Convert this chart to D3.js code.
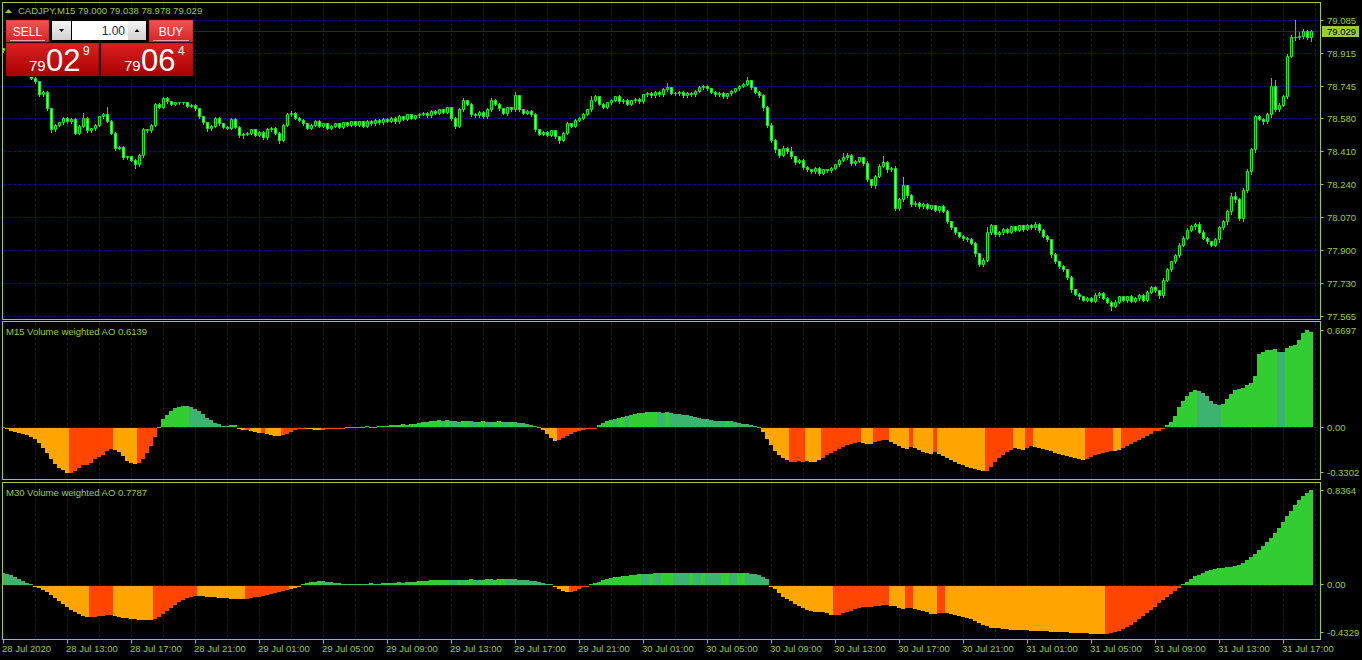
<!DOCTYPE html>
<html>
<head>
<meta charset="utf-8">
<script src="https://cdn.jsdelivr.net/npm/d3@7"></script>
<style>
html, body { margin: 0; padding: 0; background: #000; }
svg { display: block; }
text { font-family: "Liberation Sans", Arial, sans-serif; }
</style>
</head>
<body>
<div id="chart"></div>
<script>
// ---- data ----
var symbol = "CADJPY,M15";
var lotSize = "1.00";
var bid = 79.029, ask = 79.064;
var firstOpen = 78.940;

// M15 closes, one line = 8 bars (2 hours)
var closes = [
  78.930, 78.856, 78.882, 78.851, 78.830, 78.841, 78.810, 78.789,
  78.769, 78.702, 78.717, 78.630, 78.522, 78.547, 78.558, 78.583,
  78.563, 78.578, 78.506, 78.542, 78.583, 78.517, 78.527, 78.547,
  78.589, 78.604, 78.568, 78.506, 78.429, 78.434, 78.378, 78.383,
  78.367, 78.342, 78.393, 78.522, 78.517, 78.547, 78.655, 78.640,
  78.686, 78.666, 78.655, 78.661, 78.661, 78.661, 78.645, 78.650,
  78.630, 78.589, 78.558, 78.527, 78.542, 78.583, 78.553, 78.537,
  78.532, 78.578, 78.537, 78.491, 78.501, 78.506, 78.522, 78.496,
  78.511, 78.481, 78.522, 78.532, 78.506, 78.470, 78.547, 78.599,
  78.609, 78.583, 78.573, 78.553, 78.532, 78.547, 78.568, 78.542,
  78.553, 78.532, 78.542, 78.553, 78.537, 78.558, 78.547, 78.563,
  78.547, 78.563, 78.542, 78.568, 78.553, 78.573, 78.558, 78.578,
  78.568, 78.583, 78.563, 78.589, 78.578, 78.599, 78.583, 78.594,
  78.604, 78.609, 78.594, 78.619, 78.609, 78.625, 78.614, 78.635,
  78.583, 78.542, 78.625, 78.671, 78.655, 78.604, 78.594, 78.614,
  78.589, 78.625, 78.676, 78.655, 78.630, 78.609, 78.635, 78.625,
  78.697, 78.625, 78.609, 78.619, 78.604, 78.522, 78.501, 78.511,
  78.496, 78.517, 78.486, 78.470, 78.506, 78.553, 78.542, 78.573,
  78.583, 78.604, 78.625, 78.676, 78.692, 78.655, 78.640, 78.661,
  78.676, 78.692, 78.666, 78.676, 78.655, 78.671, 78.681, 78.666,
  78.702, 78.712, 78.697, 78.717, 78.702, 78.728, 78.738, 78.712,
  78.707, 78.717, 78.697, 78.712, 78.702, 78.722, 78.738, 78.748,
  78.733, 78.717, 78.702, 78.712, 78.692, 78.707, 78.722, 78.733,
  78.748, 78.758, 78.774, 78.738, 78.717, 78.697, 78.635, 78.547,
  78.470, 78.419, 78.393, 78.429, 78.409, 78.383, 78.357, 78.367,
  78.331, 78.316, 78.306, 78.326, 78.300, 78.316, 78.311, 78.326,
  78.342, 78.367, 78.378, 78.393, 78.347, 78.362, 78.378, 78.352,
  78.265, 78.234, 78.285, 78.336, 78.357, 78.316, 78.326, 78.120,
  78.162, 78.234, 78.187, 78.136, 78.146, 78.126, 78.141, 78.120,
  78.131, 78.110, 78.126, 78.105, 78.049, 78.018, 77.992, 77.976,
  77.966, 77.956, 77.940, 77.884, 77.828, 77.853, 77.997, 78.028,
  77.982, 77.997, 78.012, 77.997, 78.023, 78.007, 78.028, 78.012,
  78.033, 78.018, 78.038, 78.007, 77.976, 77.956, 77.879, 77.843,
  77.822, 77.802, 77.761, 77.699, 77.678, 77.663, 77.647, 77.657,
  77.642, 77.673, 77.683, 77.657, 77.637, 77.616, 77.637, 77.663,
  77.647, 77.663, 77.642, 77.657, 77.673, 77.647, 77.688, 77.714,
  77.694, 77.668, 77.750, 77.802, 77.843, 77.874, 77.930, 77.966,
  78.007, 78.023, 78.038, 77.997, 77.966, 77.946, 77.930, 77.956,
  78.018, 78.049, 78.100, 78.182, 78.162, 78.069, 78.213, 78.306,
  78.419, 78.589, 78.578, 78.563, 78.599, 78.743, 78.625, 78.650,
  78.692, 78.902, 78.995, 78.995, 79.005, 79.026, 79.000, 79.029
];

// wick lengths in points (0.001) above / below the body
var wickUp = [
  6,5,8,4,6,5,7,5, 4,6,5,7,5,6,4,6, 5,7,4,6,25,5,6,4, 6,5,35,4,6,5,7,4,
  5,6,4,8,5,6,5,7, 6,5,7,4,6,5,4,6, 5,6,4,7,5,8,6,5, 6,7,5,4,6,5,7,6,
  5,6,8,5,7,4,6,10, 8,5,6,4,7,5,6,5, 6,5,4,6,5,7,5,6, 5,6,7,5,4,6,5,7,
  6,5,6,8,5,6,4,6, 5,7,5,6,8,5,6,7, 6,5,8,15,6,5,7,5, 6,8,10,5,6,5,7,6,
  20,6,5,7,5,6,5,6, 5,6,7,5,6,8,5,6, 6,5,7,20,8,5,6,7, 5,6,8,5,7,5,6,5,
  6,7,5,6,5,8,25,6, 5,6,7,5,6,5,8,6, 6,5,7,6,5,6,7,5, 6,8,20,5,6,7,8,10,
  12,8,6,10,7,25,6,8, 6,7,5,8,6,7,5,6, 7,6,25,8,6,7,6,5, 8,6,7,12,30,6,7,10,
  8,45,7,6,8,5,7,6, 6,7,5,8,6,7,5,6, 7,6,8,6,7,10,25,8, 6,7,5,8,6,7,6,5,
  7,6,8,5,6,7,6,8, 6,7,5,8,6,7,6,7, 6,8,7,5,6,7,8,6, 7,6,8,6,7,5,8,6,
  7,6,10,8,7,10,8,9, 10,8,7,12,8,6,7,8, 9,10,12,15,20,10,12,15, 12,10,8,7,10,45,35,10,
  8,12,15,90,20,15,8,9
];
var wickDn = [
  5,6,4,7,5,6,5,4, 6,5,7,5,8,6,5,4, 6,5,7,4,6,5,8,6, 5,7,6,5,8,6,5,7,
  6,15,7,10,5,6,4,5, 6,5,4,6,5,7,5,6, 7,5,6,8,5,6,5,7, 5,6,7,5,8,6,5,7,
  6,5,7,6,5,15,6,5, 5,6,7,5,6,5,7,6, 6,5,6,7,5,6,5,6, 5,7,5,6,6,5,7,5,
  6,5,7,5,6,7,5,6, 5,6,5,7,6,5,6,5, 8,10,6,5,7,8,6,5, 6,5,7,6,5,6,8,5,
  6,7,5,6,8,7,6,5, 6,7,5,15,6,5,7,6, 5,6,7,5,6,7,5,6, 6,5,6,7,5,6,5,7,
  5,6,5,7,6,5,6,5, 6,5,7,5,6,5,6,7, 5,6,5,7,6,5,6,5, 6,5,6,5,7,6,8,10,
  10,8,12,7,8,6,8,7, 8,6,7,5,8,6,7,6, 6,7,5,6,7,6,5,8, 7,6,10,7,6,8,6,12,
  10,7,8,6,7,8,6,7, 6,7,8,6,7,8,7,6, 8,7,6,10,8,7,6,8, 7,6,8,7,6,7,6,8,
  6,7,6,8,7,6,8,7, 8,7,6,8,7,8,6,7, 7,6,8,7,6,20,7,6, 7,8,6,7,8,6,7,6,
  6,10,7,6,8,7,6,7, 7,6,8,7,6,8,7,6, 8,7,10,8,9,8,15,8, 10,8,7,8,6,8,7,8,
  7,8,6,9,7,8,9,22
];

var priceTicks = [79.085, 78.915, 78.745, 78.580, 78.410, 78.240, 78.070, 77.900, 77.730, 77.565];

// one label every 16 bars (4 hours)
var timeLabels = [
  "28 Jul 2020", "28 Jul 13:00", "28 Jul 17:00", "28 Jul 21:00",
  "29 Jul 01:00", "29 Jul 05:00", "29 Jul 09:00", "29 Jul 13:00", "29 Jul 17:00", "29 Jul 21:00",
  "30 Jul 01:00", "30 Jul 05:00", "30 Jul 09:00", "30 Jul 13:00", "30 Jul 17:00", "30 Jul 21:00",
  "31 Jul 01:00", "31 Jul 05:00", "31 Jul 09:00", "31 Jul 13:00", "31 Jul 17:00"
];

// M15 Volume weighted AO
var ao15 = [
  0.002, -0.016, -0.028, -0.037, -0.043, -0.050, -0.057, -0.067,
  -0.085, -0.112, -0.147, -0.181, -0.223, -0.257, -0.285, -0.299,
  -0.313, -0.313, -0.306, -0.285, -0.264, -0.264, -0.250, -0.223,
  -0.209, -0.195, -0.168, -0.154, -0.161, -0.175, -0.202, -0.237,
  -0.250, -0.257, -0.250, -0.223, -0.181, -0.133, -0.071, 0.003,
  0.053, 0.081, 0.108, 0.129, 0.136, 0.143, 0.143, 0.136,
  0.122, 0.108, 0.088, 0.060, 0.046, 0.026, 0.019, 0.005,
  0.005, 0.012, 0.012, -0.016, -0.023, -0.023, -0.030, -0.035,
  -0.041, -0.041, -0.048, -0.055, -0.062, -0.062, -0.055, -0.048,
  -0.035, -0.021, -0.007, -0.003, -0.007, -0.014, -0.021, -0.021,
  -0.021, -0.014, -0.014, -0.007, -0.003, -0.003, 0.002, 0.003,
  0.003, 0.002, 0.003, 0.006, 0.003, 0.003, 0.006, 0.007,
  0.010, 0.014, 0.012, 0.015, 0.021, 0.018, 0.021, 0.024,
  0.028, 0.035, 0.038, 0.041, 0.045, 0.048, 0.045, 0.048,
  0.045, 0.041, 0.038, 0.041, 0.045, 0.041, 0.035, 0.038,
  0.041, 0.038, 0.035, 0.038, 0.041, 0.038, 0.035, 0.038,
  0.035, 0.031, 0.028, 0.024, 0.017, 0.010, 0.003, -0.021,
  -0.048, -0.076, -0.097, -0.090, -0.076, -0.062, -0.048, -0.035,
  -0.028, -0.021, -0.014, -0.007, -0.003, 0.014, 0.028, 0.041,
  0.048, 0.055, 0.062, 0.069, 0.076, 0.083, 0.090, 0.097,
  0.100, 0.104, 0.104, 0.107, 0.104, 0.100, 0.104, 0.097,
  0.093, 0.090, 0.086, 0.083, 0.076, 0.069, 0.062, 0.059,
  0.055, 0.048, 0.045, 0.041, 0.041, 0.045, 0.041, 0.035,
  0.028, 0.024, 0.021, 0.014, 0.007, 0.002, -0.035, -0.083,
  -0.124, -0.166, -0.193, -0.214, -0.228, -0.242, -0.242, -0.235,
  -0.242, -0.235, -0.242, -0.242, -0.228, -0.214, -0.193, -0.179,
  -0.166, -0.152, -0.138, -0.124, -0.117, -0.110, -0.104, -0.110,
  -0.117, -0.117, -0.104, -0.097, -0.090, -0.090, -0.104, -0.117,
  -0.131, -0.145, -0.152, -0.138, -0.145, -0.159, -0.173, -0.179,
  -0.186, -0.173, -0.186, -0.200, -0.214, -0.228, -0.242, -0.255,
  -0.262, -0.276, -0.283, -0.290, -0.297, -0.304, -0.304, -0.276,
  -0.242, -0.214, -0.193, -0.173, -0.159, -0.145, -0.152, -0.159,
  -0.145, -0.131, -0.138, -0.145, -0.152, -0.159, -0.166, -0.179,
  -0.186, -0.193, -0.200, -0.207, -0.214, -0.221, -0.228, -0.221,
  -0.207, -0.193, -0.186, -0.179, -0.173, -0.166, -0.166, -0.159,
  -0.145, -0.131, -0.117, -0.104, -0.090, -0.076, -0.062, -0.048,
  -0.028, -0.028, -0.014, 0.014, 0.035, 0.076, 0.138, 0.179,
  0.214, 0.242, 0.255, 0.248, 0.235, 0.214, 0.179, 0.159,
  0.152, 0.159, 0.193, 0.228, 0.255, 0.262, 0.269, 0.290,
  0.304, 0.352, 0.504, 0.518, 0.531, 0.531, 0.538, 0.518,
  0.518, 0.545, 0.559, 0.566, 0.600, 0.649, 0.6697, 0.655
];
// colour runs: g = up above zero, s = down above zero, o = down below zero, r = up below zero
var ao15Colors = [
  ["s",1],["o",16],["r",11],["o",6],["r",5],["s",1],["g",7],["s",10],["g",2],["o",2],["r",1],
  ["o",3],["r",1],["o",4],["r",6],["o",4],["r",6],["s",1],["g",2],["s",1],["g",2],["s",2],
  ["g",4],["s",1],["g",2],["s",1],["g",8],["s",1],["g",1],["s",3],["g",2],["s",2],["g",2],
  ["s",2],["g",2],["s",2],["g",1],["s",7],["o",4],["r",10],["g",4],["s",1],["g",2],["s",1],
  ["g",7],["s",2],["g",1],["s",14],["g",1],["s",8],["o",7],["r",4],["o",4],["r",10],["o",3],
  ["r",4],["o",5],["r",1],["o",5],["r",1],["o",12],["r",7],["o",3],["r",2],["o",13],["r",7],
  ["o",2],["r",11],["g",8],["s",6],["g",14],["s",2],["g",7]
];
var ao15Range = [-0.3302, 0.6697];
var ao15Last = 0.6139;

// M30 Volume weighted AO
var ao30 = [
  0.106, 0.097, 0.088, 0.071, 0.053, 0.035, 0.018, 0.009,
  -0.009, -0.026, -0.044, -0.062, -0.088, -0.115, -0.141, -0.168,
  -0.194, -0.221, -0.238, -0.256, -0.273, -0.282, -0.282, -0.282,
  -0.273, -0.273, -0.265, -0.265, -0.273, -0.282, -0.291, -0.291,
  -0.300, -0.300, -0.309, -0.309, -0.309, -0.309, -0.300, -0.282,
  -0.256, -0.229, -0.203, -0.176, -0.150, -0.132, -0.115, -0.106,
  -0.097, -0.097, -0.097, -0.106, -0.106, -0.106, -0.115, -0.115,
  -0.115, -0.123, -0.123, -0.123, -0.123, -0.123, -0.115, -0.106,
  -0.106, -0.097, -0.088, -0.079, -0.071, -0.062, -0.053, -0.044,
  -0.035, -0.026, -0.018, 0.009, 0.018, 0.026, 0.026, 0.035,
  0.035, 0.026, 0.026, 0.018, 0.018, 0.009, 0.009, 0.004,
  0.004, 0.009, 0.009, 0.009, 0.013, 0.009, 0.009, 0.013,
  0.013, 0.018, 0.018, 0.022, 0.018, 0.022, 0.026, 0.026,
  0.031, 0.035, 0.035, 0.040, 0.040, 0.044, 0.044, 0.044,
  0.044, 0.044, 0.040, 0.044, 0.044, 0.049, 0.044, 0.044,
  0.044, 0.049, 0.049, 0.044, 0.049, 0.053, 0.053, 0.049,
  0.049, 0.044, 0.044, 0.040, 0.035, 0.031, 0.026, 0.018,
  0.009, 0.004, -0.018, -0.035, -0.053, -0.062, -0.062, -0.053,
  -0.035, -0.018, -0.009, 0.009, 0.018, 0.026, 0.044, 0.053,
  0.062, 0.071, 0.071, 0.079, 0.079, 0.088, 0.088, 0.093,
  0.097, 0.097, 0.097, 0.101, 0.101, 0.101, 0.106, 0.106,
  0.106, 0.106, 0.106, 0.106, 0.103, 0.103, 0.103, 0.103,
  0.103, 0.103, 0.103, 0.103, 0.103, 0.103, 0.103, 0.103,
  0.103, 0.103, 0.103, 0.097, 0.094, 0.086, 0.068, 0.050,
  -0.004, -0.038, -0.073, -0.108, -0.126, -0.144, -0.170, -0.188,
  -0.206, -0.223, -0.232, -0.241, -0.241, -0.241, -0.250, -0.267,
  -0.267, -0.267, -0.250, -0.241, -0.232, -0.214, -0.206, -0.197,
  -0.197, -0.197, -0.188, -0.188, -0.179, -0.179, -0.188, -0.188,
  -0.206, -0.214, -0.206, -0.206, -0.214, -0.223, -0.232, -0.241,
  -0.258, -0.258, -0.250, -0.250, -0.250, -0.258, -0.267, -0.276,
  -0.285, -0.294, -0.303, -0.320, -0.338, -0.355, -0.364, -0.382,
  -0.382, -0.382, -0.388, -0.392, -0.397, -0.397, -0.397, -0.401,
  -0.401, -0.406, -0.406, -0.406, -0.410, -0.410, -0.415, -0.415,
  -0.415, -0.419, -0.419, -0.423, -0.423, -0.423, -0.428, -0.428,
  -0.432, -0.4329, -0.432, -0.432, -0.430, -0.423, -0.415, -0.406,
  -0.388, -0.370, -0.353, -0.326, -0.300, -0.273, -0.247, -0.221,
  -0.194, -0.159, -0.132, -0.106, -0.079, -0.053, -0.026, 0.009,
  0.026, 0.053, 0.079, 0.088, 0.106, 0.123, 0.132, 0.141,
  0.150, 0.150, 0.159, 0.159, 0.168, 0.176, 0.194, 0.221,
  0.247, 0.273, 0.309, 0.344, 0.379, 0.415, 0.459, 0.503,
  0.556, 0.609, 0.653, 0.706, 0.750, 0.785, 0.811, 0.8364
];
var ao30Colors = [
  ["s",8],["o",14],["r",6],["o",10],["r",11],["o",12],["r",11],["o",3],["g",5],["s",9],["g",1],
  ["s",2],["g",1],["s",2],["g",2],["s",1],["g",2],["s",1],["g",11],["s",2],["g",1],["s",1],
  ["g",2],["s",2],["g",2],["s",1],["g",3],["s",12],["o",4],["r",5],["g",13],["s",2],["g",1],
  ["s",2],["g",3],["s",4],["g",1],["s",2],["g",1],["s",4],["g",2],["s",2],["g",2],["s",6],
  ["o",16],["r",14],["o",4],["r",2],["o",6],["r",2],["o",40],["r",19],["g",33]
];
var ao30Range = [-0.4329, 0.8364];
var ao30Last = 0.7787;

// ---- drawing ----
var W = 1362, H = 660;
var fg = "#9acd32";
var grid = "#0c0c94";
var candleColor = "#00ff00";
var histColors = { g: "#32cd32", s: "#3cb371", o: "#ffa500", r: "#ff4500" };
var left = 2.5, right = 1320.5;
var panels = [
  { top: 2.5, bottom: 319.5 },
  { top: 321.5, bottom: 479.5 },
  { top: 482.5, bottom: 639.5 }
];

var svg = d3.select("#chart").append("svg")
    .attr("width", W)
    .attr("height", H)
    .style("background", "#000");

var x = d3.scaleLinear().domain([0, closes.length - 1]).range([3.5, 1311.5]);
var y = d3.scaleLinear()
    .domain([priceTicks[priceTicks.length - 1], priceTicks[0]])
    .range([316, 20.5]);

function crisp(v) { return Math.round(v - 0.5) + 0.5; }

var defs = svg.append("defs");
panels.forEach(function(p, k) {
    defs.append("clipPath").attr("id", "clip" + k)
      .append("rect")
        .attr("x", left + 0.5).attr("y", p.top + 0.5)
        .attr("width", right - left - 1).attr("height", p.bottom - p.top - 1);
});

// vertical grid every 8 bars
var gridBars = d3.range(8, closes.length + 8, 8);
panels.forEach(function(p) {
    svg.append("g").selectAll("line").data(gridBars).enter().append("line")
        .attr("x1", function(d) { return x(d); })
        .attr("x2", function(d) { return x(d); })
        .attr("y1", p.top + 1).attr("y2", p.bottom - 1)
        .attr("stroke", grid).attr("stroke-dasharray", "3,2");
});

// horizontal price grid
svg.append("g").selectAll("line").data(priceTicks).enter().append("line")
    .attr("x1", left + 1).attr("x2", right - 1)
    .attr("y1", function(d) { return crisp(y(d)); })
    .attr("y2", function(d) { return crisp(y(d)); })
    .attr("stroke", grid).attr("stroke-dasharray", "3,2");

// bid line
svg.append("line")
    .attr("x1", left + 1).attr("x2", right - 1)
    .attr("y1", crisp(y(bid))).attr("y2", crisp(y(bid)))
    .attr("stroke", "#1414c8");

// candles
var bars = closes.map(function(c, i) {
    var o = i === 0 ? firstOpen : closes[i - 1];
    return { i: i, o: o, c: c,
             h: Math.max(o, c) + wickUp[i] / 1000,
             l: Math.min(o, c) - wickDn[i] / 1000 };
});

var gc = svg.append("g").attr("clip-path", "url(#clip0)");
gc.selectAll("line.wick").data(bars).enter().append("line")
    .attr("class", "wick")
    .attr("x1", function(d) { return x(d.i); })
    .attr("x2", function(d) { return x(d.i); })
    .attr("y1", function(d) { return Math.round(y(d.h)); })
    .attr("y2", function(d) { return Math.round(y(d.l)) + 1; })
    .attr("stroke", candleColor);

gc.selectAll("path.body").data(bars).enter().append("path")
    .attr("class", "body")
    .attr("d", function(d) {
        var t = crisp(y(Math.max(d.o, d.c)));
        var b = crisp(y(Math.min(d.o, d.c)));
        return "M" + (x(d.i) - 1) + "," + t + "h2V" + b + "h-2Z";
    })
    .attr("fill", function(d) { return d.c < d.o ? "#ffffff" : "#000000"; })
    .attr("stroke", candleColor);

// AO panels
function expandRuns(runs) {
    var out = [];
    runs.forEach(function(r) { for (var k = 0; k < r[1]; k++) out.push(r[0]); });
    return out;
}

function drawAO(k, values, runs, range, yRange, name, last) {
    var p = panels[k];
    var ys = d3.scaleLinear().domain(range).range(yRange);
    var cols = expandRuns(runs);
    var y0 = Math.round(ys(0));

    svg.append("line")
        .attr("x1", left + 1).attr("x2", right - 1)
        .attr("y1", y0 + 0.5).attr("y2", y0 + 0.5)
        .attr("stroke", grid).attr("stroke-dasharray", "3,2");

    svg.append("g").attr("clip-path", "url(#clip" + k + ")")
      .selectAll("rect").data(values).enter().append("rect")
        .attr("x", function(d, i) { return x(i) - 2.5; })
        .attr("width", 4)
        .attr("y", function(d) { return d >= 0 ? Math.round(ys(d)) : y0 + 1; })
        .attr("height", function(d) {
            var h = Math.abs(Math.round(ys(d)) - y0);
            return d >= 0 ? Math.max(h, 1) : Math.max(h - 1, 1);
        })
        .attr("fill", function(d, i) { return histColors[cols[i]]; });

    svg.append("text")
        .attr("x", 6).attr("y", p.top + 13)
        .attr("font-size", "9.5px").attr("fill", fg)
        .text(name + " " + last.toFixed(4));

    var labels = [
        { v: range[1], t: range[1].toFixed(4) },
        { v: 0, t: "0.00" },
        { v: range[0], t: range[0].toFixed(4) }
    ];
    labels.forEach(function(l) {
        var ly = Math.min(Math.max(ys(l.v), p.top + 7), p.bottom - 7.5);
        svg.append("line")
            .attr("x1", right).attr("x2", right + 3)
            .attr("y1", crisp(ly)).attr("y2", crisp(ly))
            .attr("stroke", fg);
        svg.append("text")
            .attr("x", 1327).attr("y", ly + 3.5)
            .attr("font-size", "9.5px").attr("fill", fg)
            .text(l.t);
    });
}

drawAO(1, ao15, ao15Colors, ao15Range, [475, 330], "M15 Volume weighted AO", ao15Last);
drawAO(2, ao30, ao30Colors, ao30Range, [634, 490], "M30 Volume weighted AO", ao30Last);

// panel borders
panels.forEach(function(p) {
    svg.append("rect")
        .attr("x", left).attr("y", p.top)
        .attr("width", right - left).attr("height", p.bottom - p.top)
        .attr("fill", "none").attr("stroke", fg);
});

// price axis
var pa = svg.append("g");
priceTicks.forEach(function(t) {
    pa.append("line")
        .attr("x1", right).attr("x2", right + 3)
        .attr("y1", crisp(y(t))).attr("y2", crisp(y(t)))
        .attr("stroke", fg);
    pa.append("text")
        .attr("x", 1327).attr("y", y(t) + 3.5)
        .attr("font-size", "9.5px").attr("fill", fg)
        .text(t.toFixed(3));
});
var by = Math.round(y(bid));
pa.append("rect").attr("x", 1322).attr("y", by - 5).attr("width", 37).attr("height", 11).attr("fill", fg);
pa.append("text").attr("x", 1327).attr("y", by + 4)
    .attr("font-size", "9.5px").attr("fill", "#000").text(bid.toFixed(3));

// time axis
var ta = svg.append("g");
timeLabels.forEach(function(t, k) {
    var tx = x(k * 16);
    ta.append("line")
        .attr("x1", tx).attr("x2", tx)
        .attr("y1", panels[2].bottom).attr("y2", panels[2].bottom + 4)
        .attr("stroke", fg);
    ta.append("text")
        .attr("x", tx - 1.5).attr("y", 652)
        .attr("font-size", "9.5px").attr("fill", fg)
        .text(t);
});

// header
var lastBar = bars[bars.length - 1];
svg.append("path").attr("d", "M5,13L8.5,9L12,13Z").attr("fill", fg);
svg.append("text")
    .attr("x", 18).attr("y", 14)
    .attr("font-size", "9.5px").attr("fill", fg)
    .text(symbol + "  " + [lastBar.o, lastBar.h, lastBar.l, lastBar.c].map(function(v) { return v.toFixed(3); }).join(" "));

// one-click trading panel
var grad1 = defs.append("linearGradient").attr("id", "btn").attr("x1", 0).attr("y1", 0).attr("x2", 0).attr("y2", 1);
grad1.append("stop").attr("offset", "0").attr("stop-color", "#f25454");
grad1.append("stop").attr("offset", "1").attr("stop-color", "#d42424");
var grad2 = defs.append("linearGradient").attr("id", "box").attr("x1", 0).attr("y1", 0).attr("x2", 0).attr("y2", 1);
grad2.append("stop").attr("offset", "0").attr("stop-color", "#dc2020");
grad2.append("stop").attr("offset", "1").attr("stop-color", "#a80000");
var grad3 = defs.append("linearGradient").attr("id", "spin").attr("x1", 0).attr("y1", 0).attr("x2", 0).attr("y2", 1);
grad3.append("stop").attr("offset", "0").attr("stop-color", "#f4f4f4");
grad3.append("stop").attr("offset", "1").attr("stop-color", "#d0d0d0");

var tp = svg.append("g");
tp.append("rect").attr("x", 5).attr("y", 19).attr("width", 189).attr("height", 58).attr("fill", "#000");

function button(bx, bw, label) {
    tp.append("rect").attr("x", bx).attr("y", 20).attr("width", bw).attr("height", 22)
        .attr("fill", "url(#btn)").attr("stroke", "#b01010").attr("stroke-width", 0.5);
    tp.append("line").attr("x1", bx + 4).attr("x2", bx + bw - 4)
        .attr("y1", 40.5).attr("y2", 40.5).attr("stroke", "#f7a0a0");
    tp.append("text").attr("x", bx + bw / 2).attr("y", 35.5)
        .attr("text-anchor", "middle").attr("font-size", "12px").attr("fill", "#fff")
        .text(label);
}
button(6, 43, "SELL");
button(149, 44, "BUY");

tp.append("rect").attr("x", 52).attr("y", 21).attr("width", 19).attr("height", 19).attr("fill", "url(#spin)");
tp.append("path").attr("d", "M59,29h5l-2.5,3Z").attr("fill", "#000");
tp.append("rect").attr("x", 72).attr("y", 21).attr("width", 56).attr("height", 19).attr("fill", "#fff");
tp.append("text").attr("x", 125).attr("y", 35).attr("text-anchor", "end")
    .attr("font-size", "12px").attr("fill", "#102a6a").text(lotSize);
tp.append("rect").attr("x", 128).attr("y", 21).attr("width", 18).attr("height", 19).attr("fill", "url(#spin)");
tp.append("path").attr("d", "M134.5,32h5l-2.5,-3Z").attr("fill", "#000");

function priceBox(bx, bw, price) {
    var s = price.toFixed(3);
    tp.append("rect").attr("x", bx).attr("y", 43).attr("width", bw).attr("height", 33)
        .attr("fill", "url(#box)").attr("stroke", "#8a0000").attr("stroke-width", 0.5);
    tp.append("text").attr("x", bx + 23).attr("y", 71).attr("font-size", "15px").attr("fill", "#fff")
        .text(s.slice(0, 2));
    tp.append("text").attr("x", bx + 40).attr("y", 71).attr("font-size", "31px").attr("fill", "#fff")
        .text(s.slice(3, 5));
    tp.append("text").attr("x", bx + 77).attr("y", 55).attr("font-size", "12px").attr("fill", "#fff")
        .text(s.slice(5));
}
priceBox(6, 93, bid);
priceBox(101, 92, ask);
</script>
</body>
</html>
